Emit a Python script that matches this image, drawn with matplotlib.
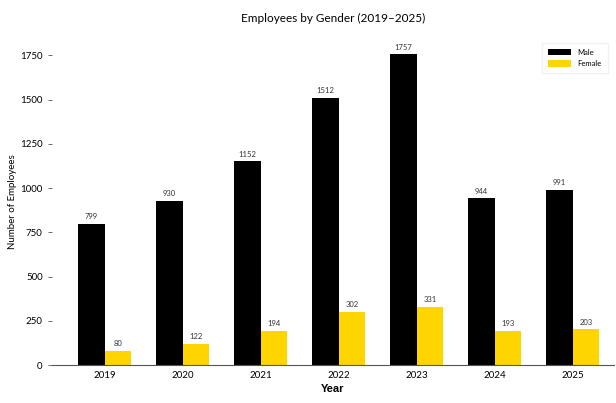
import numpy as np
import matplotlib
matplotlib.use("Agg")
from matplotlib import pyplot as plt

years = ["2019", "2020", "2021", "2022", "2023", "2024", "2025"]
male = [799, 930, 1152, 1512, 1757, 944, 991]
female = [80, 122, 194, 302, 331, 193, 203]

plt.rcParams['font.family'] = ['Lato', 'DejaVu Sans']

fig = plt.figure(figsize=(6.16, 4.03), dpi=100)
ax = fig.add_axes([0.084, 0.094, 0.913, 0.81])

x = np.arange(len(years))
w = 0.34
b1 = ax.bar(x - w/2, male, w, color='black', label='Male')
b2 = ax.bar(x + w/2, female, w, color='#FFD500', label='Female')

for bars in (b1, b2):
    for r in bars:
        ax.text(r.get_x() + r.get_width()/2, r.get_height() + 20, str(int(r.get_height())),
                ha='center', va='bottom', fontsize=5.5, color='#333333')

ax.set_xticks(x)
ax.set_xticklabels(years, fontsize=7)
ax.set_xlim(-0.68, 6.53)
ax.set_ylim(0, 1845)
ax.set_yticks([0, 250, 500, 750, 1000, 1250, 1500, 1750])
ax.tick_params(axis='y', labelsize=7, length=3, width=0.6, color='#555555')
ax.tick_params(axis='x', length=0, pad=4)
for s in ['top', 'right', 'left']:
    ax.spines[s].set_visible(False)
ax.spines['bottom'].set_color('#555555')
ax.spines['bottom'].set_linewidth(0.8)

ax.set_title("Employees by Gender (2019–2025)", fontsize=8.5, pad=12)
ax.set_ylabel("Number of Employees", fontsize=7, labelpad=2)
ax.set_xlabel("Year", fontsize=8, fontweight='bold', family=['Liberation Sans', 'DejaVu Sans'], labelpad=3)
ax.legend(loc='upper right', fontsize=5.5, frameon=True, edgecolor='#eeeeee', fancybox=False,
          handlelength=3, handleheight=1.0, labelspacing=0.6, borderpad=0.8,
          bbox_to_anchor=(0.995, 1.0))

fig.savefig("out.png", dpi=100)
